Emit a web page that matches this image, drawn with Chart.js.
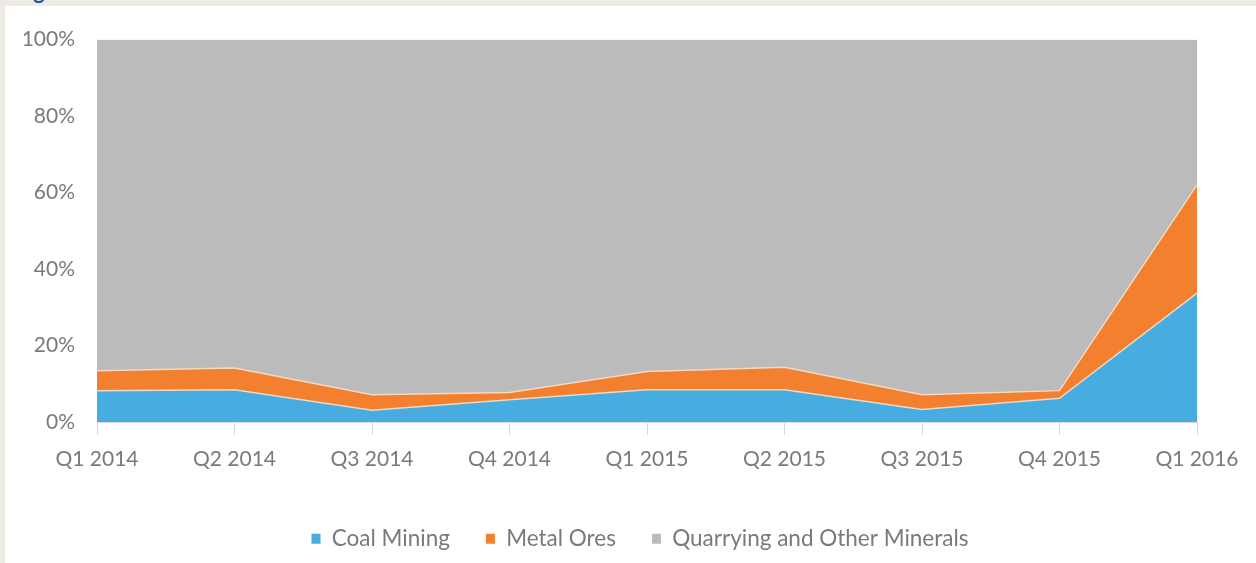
<!DOCTYPE html>
<html>
<head>
<meta charset="utf-8">
<script src="https://cdn.jsdelivr.net/npm/chart.js@4.4.1/dist/chart.umd.min.js"></script>
<style>
  html, body { margin: 0; padding: 0; }
  body { width: 1256px; height: 563px; background: #eeebe6; overflow: hidden; position: relative; font-family: Lato, "Open Sans", sans-serif; }
  #heading { position: absolute; left: 15px; top: -20.5px; font: bold 22px/22px Lato, sans-serif; color: #2e5496; white-space: nowrap; }
  #panel { position: absolute; left: 5px; top: 6px; right: 0; bottom: 0; background: #ffffff; }
  #wrap { position: absolute; left: 0; top: 0; width: 1256px; height: 563px; }
</style>
</head>
<body>
<div id="heading">Figure</div>
<div id="panel"></div>
<div id="wrap"><canvas id="chart" width="1256" height="563"></canvas></div>
<script>
// Quarterly share of mining output by sub-sector (% of total)
const quarters = ['Q1 2014', 'Q2 2014', 'Q3 2014', 'Q4 2014', 'Q1 2015', 'Q2 2015', 'Q3 2015', 'Q4 2015', 'Q1 2016'];
const coalMining = [8.2, 8.4, 3.1, 5.8, 8.4, 8.4, 3.3, 6.2, 33.7];
const metalOres  = [5.2, 5.7, 4.0, 1.9, 4.8, 5.9, 3.8, 2.0, 28.3];
const quarrying  = [86.6, 85.9, 92.9, 92.3, 86.8, 85.7, 92.9, 91.8, 38.0];
const yTicks = [0, 20, 40, 60, 80, 100];

const seriesNames = ['Coal Mining', 'Metal Ores', 'Quarrying and Other Minerals'];
const seriesColors = ['#47acdf', '#f3802f', '#bbbbbb'];
const textColor = '#7a7a7a';
const fontFamily = 'Lato, "Open Sans", sans-serif';

const ctx = document.getElementById('chart');
new Chart(ctx, {
  type: 'line',
  data: {
    labels: quarters,
    datasets: [
      { label: seriesNames[0], data: coalMining, backgroundColor: seriesColors[0], borderColor: 'rgba(246,222,200,0.9)', borderWidth: 1.5, fill: 'origin' },
      { label: seriesNames[1], data: metalOres,  backgroundColor: seriesColors[1], borderColor: 'rgba(246,222,200,0.9)', borderWidth: 1.5, fill: '-1' },
      { label: seriesNames[2], data: quarrying,  backgroundColor: seriesColors[2], borderColor: seriesColors[2], borderWidth: 0, fill: '-1' }
    ]
  },
  options: {
    responsive: false,
    animation: false,
    elements: { point: { radius: 0, hoverRadius: 0 }, line: { tension: 0 } },
    layout: { padding: { left: 24, right: 0, top: 39.5, bottom: 3 } },
    plugins: {
      tooltip: { enabled: false },
      legend: {
        position: 'bottom',
        labels: {
          boxWidth: 9,
          boxHeight: 10,
          padding: 36,
          color: textColor,
          font: { family: fontFamily, size: 22.5 },
          generateLabels(chart) {
            return chart.data.datasets.map((ds, i) => ({
              text: ds.label,
              fillStyle: ds.backgroundColor,
              strokeStyle: ds.backgroundColor,
              lineWidth: 0,
              fontColor: textColor,
              hidden: false,
              datasetIndex: i
            }));
          }
        }
      }
    },
    scales: {
      x: {
        type: 'category',
        offset: false,
        grid: { display: true, drawOnChartArea: false, drawTicks: true, tickLength: 13, color: '#d9d9d9' },
        border: { display: true, color: '#d9d9d9' },
        ticks: { color: textColor, font: { family: fontFamily, size: 21 }, padding: 12, maxRotation: 0, autoSkip: false },
        afterFit(scale) { scale.height = 69.5; }
      },
      y: {
        stacked: true,
        min: 0,
        max: 100,
        afterBuildTicks(scale) { scale.ticks = yTicks.map(v => ({ value: v })); },
        grid: { display: false, drawTicks: false },
        border: { display: false },
        ticks: { color: textColor, font: { family: fontFamily, size: 21 }, padding: 22, callback: v => v + '%' },
        afterFit(scale) { scale.width = 73; }
      },
      // empty right-hand margin axis, keeps the plot clear of the right edge
      yRight: {
        position: 'right',
        min: 0,
        max: 100,
        grid: { display: false, drawTicks: false },
        border: { display: false },
        ticks: { display: false },
        afterFit(scale) { scale.width = 59; }
      }
    }
  }
});
</script>
</body>
</html>
